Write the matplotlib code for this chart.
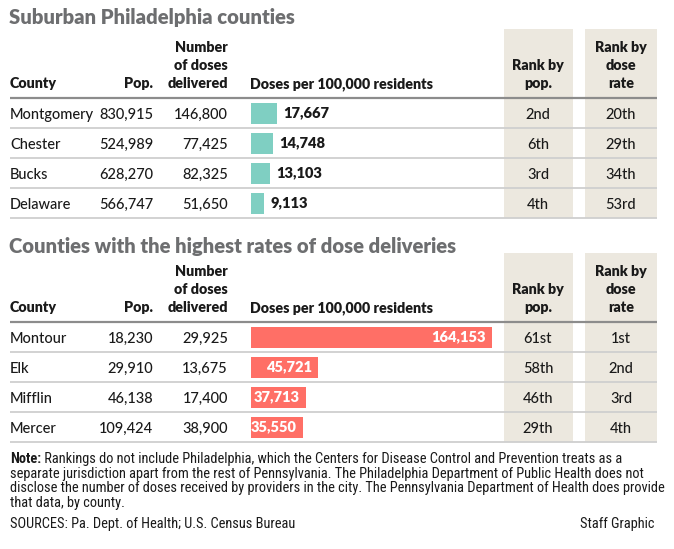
import matplotlib
matplotlib.use("Agg")
import matplotlib.pyplot as plt

# ---------------- data ----------------
title1 = "Suburban Philadelphia counties"
counties1 = ["Montgomery", "Chester", "Bucks", "Delaware"]
pop1 = ["830,915", "524,989", "628,270", "566,747"]
doses1 = ["146,800", "77,425", "82,325", "51,650"]
rate1 = [17667, 14748, 13103, 9113]
rankpop1 = ["2nd", "6th", "3rd", "4th"]
rankrate1 = ["20th", "29th", "34th", "53rd"]

title2 = "Counties with the highest rates of dose deliveries"
counties2 = ["Montour", "Elk", "Mifflin", "Mercer"]
pop2 = ["18,230", "29,910", "46,138", "109,424"]
doses2 = ["29,925", "13,675", "17,400", "38,900"]
rate2 = [164153, 45721, 37713, 35550]
rankpop2 = ["61st", "58th", "46th", "29th"]
rankrate2 = ["1st", "2nd", "3rd", "4th"]

note_bold = "Note:"
note_lines = [
    " Rankings do not include Philadelphia, which the Centers for Disease Control and Prevention treats as a",
    "separate jurisdiction apart from the rest of Pennsylvania. The Philadelphia Department of Public Health does not",
    "disclose the number of doses received by providers in the city. The Pennsylvania Department of Health does provide",
    "that data, by county.",
]
sources = "SOURCES: Pa. Dept. of Health; U.S. Census Bureau"
credit = "Staff Graphic"

# ---------------- style ----------------
W, H = 674, 549
FONT = ["Lato", "DejaVu Sans"]
NARROW = ["Liberation Sans Narrow", "Roboto Condensed", "Liberation Sans", "DejaVu Sans"]
TEAL = "#7fcfc2"
SALMON = "#ff6f66"
BEIGE = "#ece8df"
TITLE_C = "#6d6e70"
TXT = "#1a1a1a"
MAXV = 164153

fig = plt.figure(figsize=(W / 100, H / 100), dpi=100)
ax = fig.add_axes([0, 0, 1, 1])
ax.set_xlim(0, W)
ax.set_ylim(H, 0)
ax.axis("off")

X_COUNTY = 10
X_POP = 153
X_DOSE = 228
X_BAR = 251
BAR_W = 241
X_RP = 538
X_RR = 621
COLS = [(504, 573), (585, 657)]
FS_CELL = 10.5
FS_HEAD = 10.3
FS_NOTE = 10.4


def table(top_bg, title, title_base, head_base, line_y, rows_top, counties, pops, doses,
          rates, rps, rrs, color, inside):
    # beige rank columns
    for (x0, x1) in COLS:
        ax.add_patch(plt.Rectangle((x0, top_bg), x1 - x0, rows_top + 120 - top_bg,
                                   color=BEIGE, lw=0, zorder=0))
    ax.text(9, title_base, title,
            fontsize=14.6, fontweight="heavy", color=TITLE_C, family=FONT, va="baseline")
    b = head_base
    hk = dict(fontsize=FS_HEAD, fontweight="heavy", color=TXT, family=FONT, va="baseline")
    ax.text(X_COUNTY, b, "County", ha="left", **hk)
    ax.text(X_POP, b, "Pop.", ha="right", **hk)
    for i, s in enumerate(["Number", "of doses", "delivered"]):
        ax.text(X_DOSE, b - 36 + 18 * i, s, ha="right", **hk)
    ax.text(X_BAR - 1, b, "Doses per 100,000 residents", ha="left", **hk)
    for i, s in enumerate(["Rank by", "pop."]):
        ax.text(X_RP, b - 18 + 18 * i, s, ha="center", **hk)
    for i, s in enumerate(["Rank by", "dose", "rate"]):
        ax.text(X_RR, b - 36 + 18 * i, s, ha="center", **hk)
    # lines
    ax.plot([10, 657], [line_y, line_y], color="#8c8c8c", lw=1.6, solid_capstyle="butt", zorder=2)
    for k in range(1, 5):
        y = rows_top + 30 * k
        ax.plot([10, 657], [y, y], color="#cfcfcf", lw=1.3, solid_capstyle="butt", zorder=2)
    ck = dict(fontsize=FS_CELL, fontweight="medium", color=TXT, family=FONT, va="baseline")
    for i in range(4):
        yb = rows_top + 15 + 30 * i + 6
        ax.text(X_COUNTY, yb, counties[i], ha="left", **ck)
        ax.text(X_POP, yb, pops[i], ha="right", **ck)
        ax.text(X_DOSE, yb, doses[i], ha="right", **ck)
        ax.text(X_RP, yb, rps[i], ha="center", **ck)
        ax.text(X_RR, yb, rrs[i], ha="center", **ck)
    # bar axes
    bax = fig.add_axes([X_BAR / W, 1 - (rows_top + 120) / H, BAR_W / W, 120 / H])
    bax.set_xlim(0, MAXV)
    bax.set_ylim(3.5, -0.5)
    bax.axis("off")
    bax.patch.set_alpha(0)
    bax.barh(range(4), rates, height=0.7, color=color, left=0)
    for i, v in enumerate(rates):
        lab = f"{v:,}"
        if inside:
            bax.annotate(lab, (v, i), xytext=(-4.5, 0), textcoords="offset points",
                         ha="right", va="center", fontsize=FS_CELL, fontweight="heavy",
                         color="white", family=FONT)
        else:
            bax.annotate(lab, (v, i), xytext=(4.5, 0), textcoords="offset points",
                         ha="left", va="center", fontsize=FS_CELL, fontweight="heavy",
                         color=TXT, family=FONT)


table(29, title1, 24, 88, 97.5, 98, counties1, pop1, doses1, rate1, rankpop1, rankrate1, TEAL, False)
table(253, title2, 253, 312, 321.5, 322, counties2, pop2, doses2, rate2, rankpop2, rankrate2, SALMON, True)

# note
fig.canvas.draw()
r = fig.canvas.get_renderer()
nb = ax.text(10, 463, note_bold, fontsize=FS_NOTE, fontweight="bold", color=TXT, family=NARROW, va="baseline")
bb = nb.get_window_extent(renderer=r)
x_after = bb.x1
for i, s in enumerate(note_lines):
    ax.text(x_after if i == 0 else 10, 463 + 14.7 * i, s, fontsize=FS_NOTE, color=TXT,
            family=NARROW, va="baseline")
ax.text(10, 528, sources, fontsize=FS_NOTE, color=TXT, family=NARROW, va="baseline")
ax.text(655, 528, credit, fontsize=FS_NOTE, color=TXT, family=NARROW, va="baseline", ha="right")

fig.savefig("out.png", dpi=100)
